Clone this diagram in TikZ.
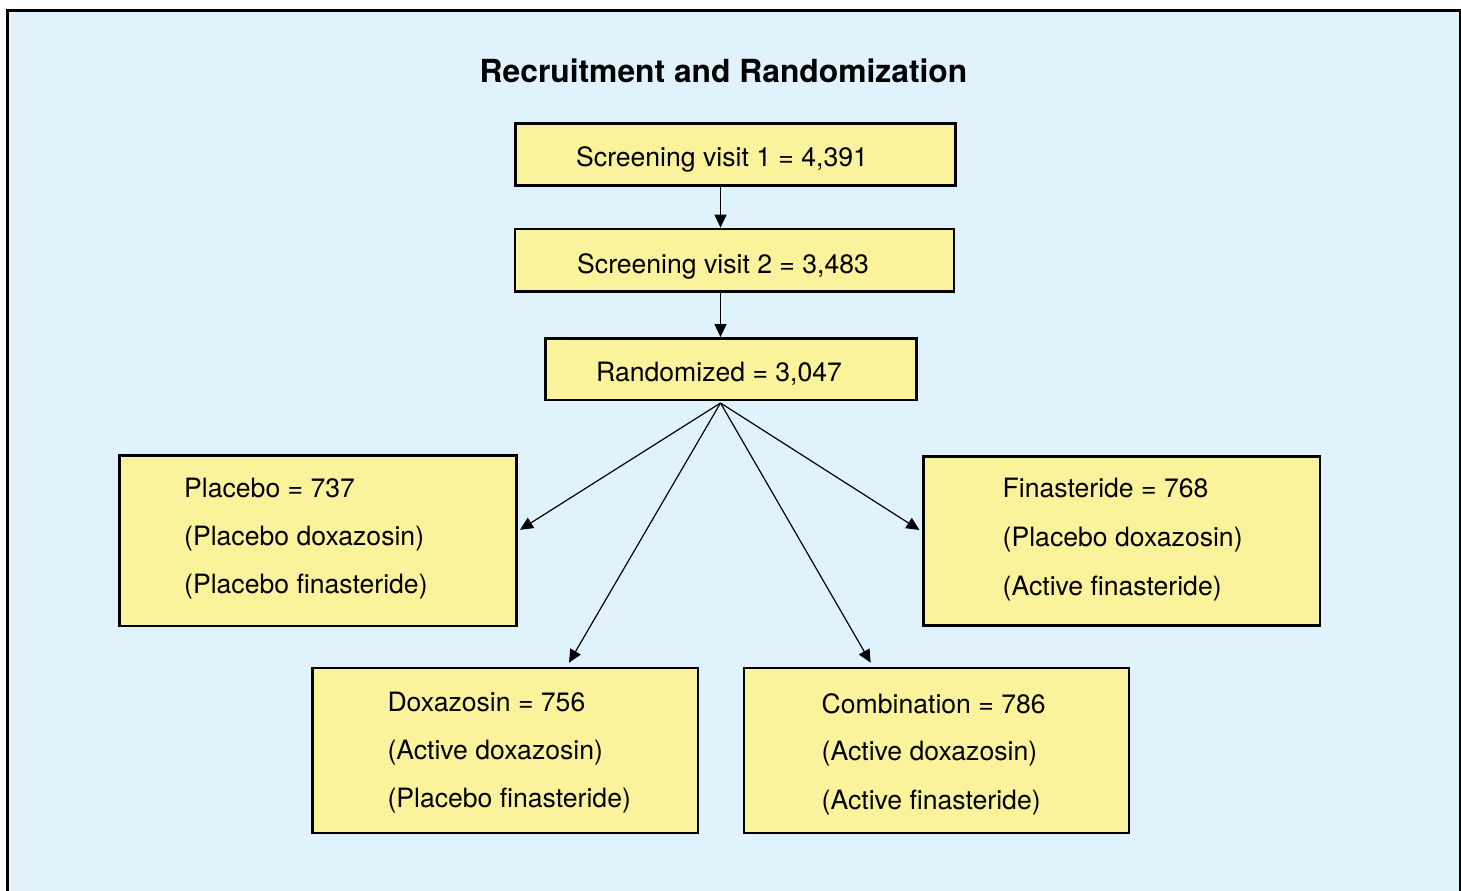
\documentclass[tikz,border=0pt]{standalone}
\usepackage{fontspec}
\setmainfont{TeX Gyre Heros}
\usetikzlibrary{arrows.meta}
\definecolor{bgblue}{RGB}{224,243,253}
\definecolor{boxyellow}{RGB}{251,243,155}
\tikzset{
  flowbox/.style={draw=black, fill=boxyellow, line width=2.6pt, inner sep=0pt, minimum width=#1},
  flowbox/.default=100pt,
  txt/.style={anchor=base west, inner sep=0pt, font=\fontsize{26.6}{48}\selectfont},
  ttl/.style={anchor=base, inner sep=0pt, font=\fontsize{31.8}{38}\selectfont\bfseries},
  arr/.style={draw=black, line width=1.2pt, -{Triangle[length=13pt,width=12pt]}}
}
\begin{document}
\begin{tikzpicture}[x=1pt,y=-1pt]
\clip (0,0) rectangle (1461,891);
\fill[white] (0,0) rectangle (1461,891);
\draw[line width=2.7pt, fill=bgblue] (7.3,10.4) rectangle (1460.3,910);

\node[ttl] (title) at (723.5,82.3) {Recruitment and Randomization};

% boxes
\node[flowbox=440pt, minimum height=62.4pt] (s1) at (735.7,154.5) {};
\node[flowbox=439pt, minimum height=62.7pt] (s2) at (734.5,260.3) {};
\node[flowbox=371pt, minimum height=61.7pt] (r) at (731.2,369.2) {};
\node[flowbox=397.4pt, minimum height=170.3pt] (pl) at (318,540.8) {};
\node[flowbox=396.7pt, minimum height=169pt] (fi) at (1121.7,541.2) {};
\node[flowbox=385.3pt, minimum height=165pt] (dx) at (505.3,750.5) {};
\node[flowbox=385pt, minimum height=165pt] (cb) at (936.5,750.5) {};

% texts
\node[txt] (t1) at (576,166.5) {Screening visit 1 = 4,391};
\node[txt] (t2) at (577,273) {Screening visit 2 = 3,483};
\node[txt] (t3) at (596,381.7) {Randomized = 3,047};

\node[txt] (pl1) at (184,497.4) {Placebo = 737};
\node[txt] (pl2) at (184,545.4) {(Placebo doxazosin)};
\node[txt] (pl3) at (184,593.4) {(Placebo finasteride)};

\node[txt] (fi1) at (1002.5,497.7) {Finasteride = 768};
\node[txt] (fi2) at (1002.5,546.2) {(Placebo doxazosin)};
\node[txt] (fi3) at (1002.5,595) {(Active finasteride)};

\node[txt] (dx1) at (387.3,711) {Doxazosin = 756};
\node[txt] (dx2) at (387.3,759.3) {(Active doxazosin)};
\node[txt] (dx3) at (387.3,807.7) {(Placebo finasteride)};

\node[txt] (cb1) at (821.5,713.3) {Combination = 786};
\node[txt] (cb2) at (821.5,760) {(Active doxazosin)};
\node[txt] (cb3) at (821.5,809) {(Active finasteride)};

% connectors
\coordinate (fan) at (720.5,403);
\draw[arr] (s1.south -| fan) -- (s2.north -| fan);
\draw[arr] (s2.south -| fan) -- (r.north -| fan);
\draw[arr] (fan) -- ([xshift=2pt,yshift=11pt]pl.east);
\draw[arr] (fan) -- ([xshift=63.7pt,yshift=4pt]dx.north);
\draw[arr] (fan) -- ([xshift=-65.8pt,yshift=4pt]cb.north);
\draw[arr] (fan) -- ([xshift=-2.6pt,yshift=11.2pt]fi.west);
\end{tikzpicture}
\end{document}
